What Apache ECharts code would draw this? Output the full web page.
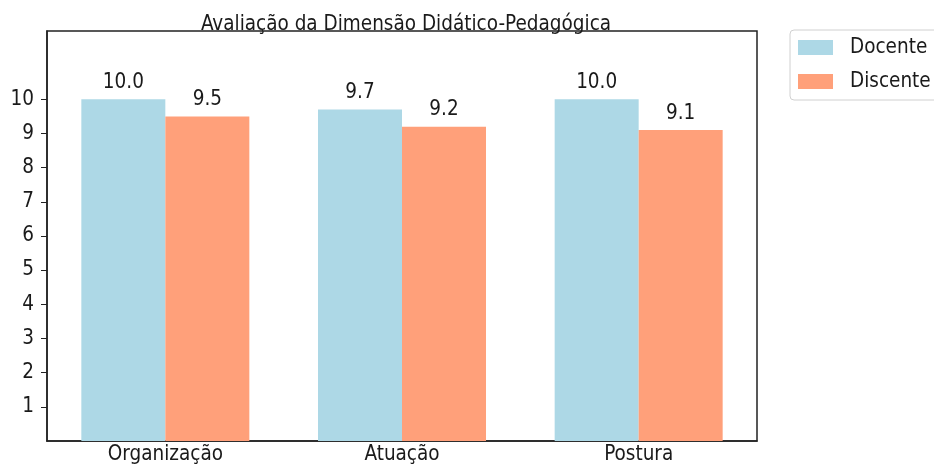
<!DOCTYPE html>
<html>
<head>
<meta charset="utf-8">
<script src="https://cdn.jsdelivr.net/npm/echarts@6/dist/echarts.min.js"></script>
<style>
  html, body { margin: 0; padding: 0; background: #fff; }
  #chart { width: 934px; height: 465px; }
</style>
</head>
<body>
<div id="chart"></div>
<script>
const categories = ["Organização", "Atuação", "Postura"];
const docente = [10.0, 9.7, 10.0];
const discente = [9.5, 9.2, 9.1];
const yTicks = [1, 2, 3, 4, 5, 6, 7, 8, 9, 10];

const font = '"DejaVu Sans Condensed", "DejaVu Sans", sans-serif';
const chart = echarts.init(document.getElementById("chart"));

// rótulo de valor sobre cada barra
const valueLabel = {
  show: true,
  position: "top",
  distance: 6,
  color: "#1a1a1a",
  fontFamily: font,
  fontSize: 20.5,
  formatter: (p) => p.value.toFixed(1),
};

chart.setOption({
  animation: false,
  title: {
    text: "Avaliação da Dimensão Didático-Pedagógica",
    left: 401,
    top: 9,
    textAlign: "center",
    textStyle: { fontFamily: font, fontSize: 20.5, fontWeight: "normal", color: "#1a1a1a" },
  },
  legend: {
    orient: "vertical",
    left: 790,
    top: 30,
    padding: [7, 12, 8, 8],
    itemWidth: 35,
    itemHeight: 15,
    itemGap: 13,
    borderColor: "#d0d0d0",
    borderWidth: 1,
    borderRadius: 4,
    icon: "rect",
    textStyle: { fontFamily: font, fontSize: 20.5, color: "#1a1a1a", lineHeight: 19, padding: [0, 0, 0, 12] },
    data: ["Docente", "Discente"],
  },
  grid: {
    left: 47,
    right: 177,
    top: 31,
    bottom: 24,
    show: true,
    borderColor: "#222",
    borderWidth: 1.5,
    outerBoundsMode: "none",
  },
  xAxis: {
    type: "category",
    data: categories,
    axisLine: { show: true, lineStyle: { color: "#222", width: 1.5 } },
    axisTick: { show: false },
    axisLabel: { fontFamily: font, fontSize: 20.5, color: "#1a1a1a", margin: 3 },
  },
  yAxis: {
    type: "value",
    min: 0,
    max: 12,
    interval: 1,
    splitLine: { show: false },
    axisLine: { show: true, lineStyle: { color: "#222", width: 1.5 } },
    axisTick: { show: true, length: 6, customValues: yTicks, lineStyle: { color: "#222" } },
    axisLabel: {
      fontFamily: font,
      fontSize: 20.5,
      color: "#1a1a1a",
      margin: 13,
      customValues: yTicks,
    },
  },
  series: [
    {
      name: "Docente",
      type: "bar",
      data: docente,
      barWidth: 84,
      barGap: "0%",
      itemStyle: { color: "#ADD8E6" },
      label: valueLabel,
    },
    {
      name: "Discente",
      type: "bar",
      data: discente,
      barWidth: 84,
      itemStyle: { color: "#FFA07A" },
      label: valueLabel,
    },
  ],
});
</script>
</body>
</html>
